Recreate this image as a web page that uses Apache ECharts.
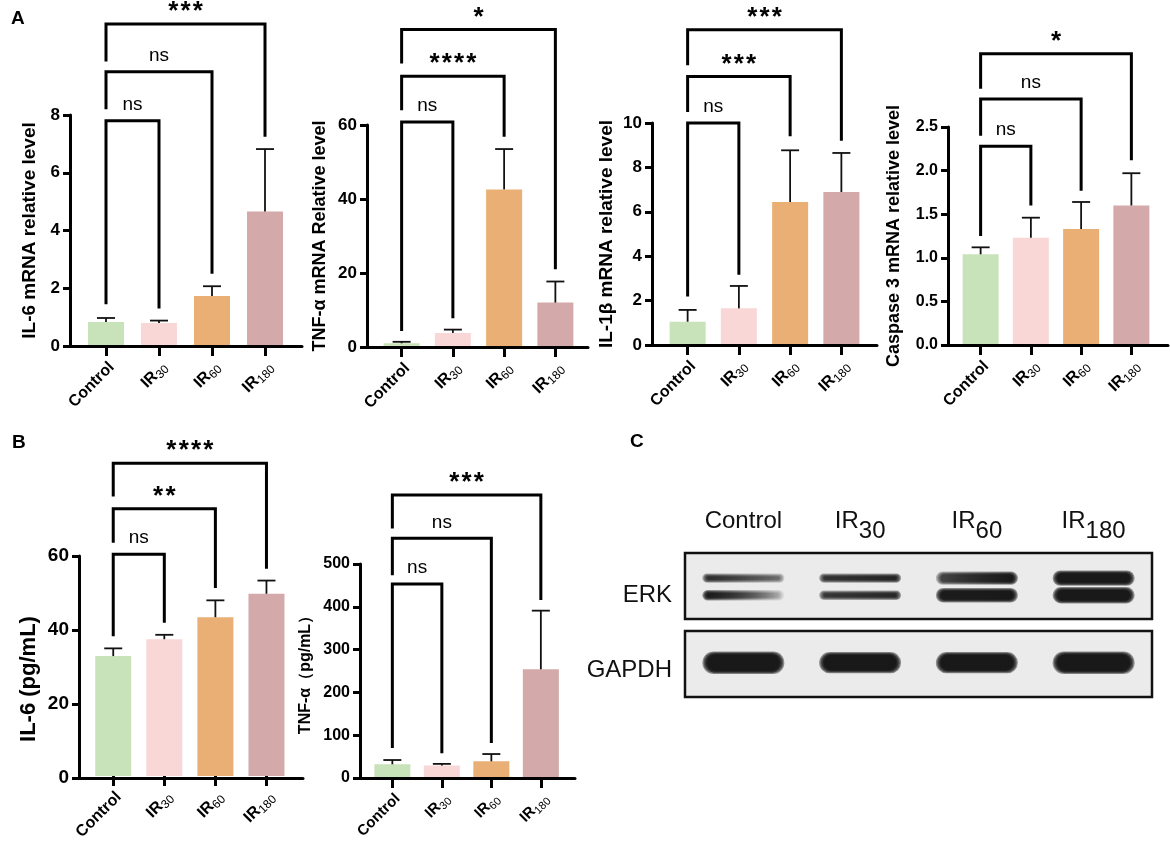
<!DOCTYPE html>
<html>
<head>
<meta charset="utf-8">
<script src="https://cdn.jsdelivr.net/npm/echarts@6/dist/echarts.min.js"></script>
<style>
  html, body { margin: 0; padding: 0; background: #fff; }
  #main { width: 1170px; height: 844px; }
</style>
</head>
<body>
<div id="main"></div>
<script>
var categories = ['Control', 'IR30', 'IR60', 'IR180'];

// A - mRNA relative level, mean and upper SD
var il6MrnaMean = [0.83, 0.80, 1.73, 4.66];
var il6MrnaErr = [0.14, 0.08, 0.34, 2.16];
var tnfMrnaMean = [1.0, 3.8, 42.6, 12.0];
var tnfMrnaErr = [0.4, 0.9, 10.9, 5.7];
var il1bMrnaMean = [1.05, 1.65, 6.44, 6.89];
var il1bMrnaErr = [0.53, 1.01, 2.33, 1.76];
var casp3MrnaMean = [1.04, 1.23, 1.33, 1.60];
var casp3MrnaErr = [0.08, 0.23, 0.31, 0.37];

// B - ELISA (pg/mL)
var il6ElisaMean = [32.7, 37.3, 43.3, 49.7];
var il6ElisaErr = [2.1, 1.2, 4.6, 3.6];
var tnfElisaMean = [32, 29, 39, 254];
var tnfElisaErr = [10, 4, 17, 137];

// significance brackets: [from, to, bracket level, left leg end, right leg end]
var il6MrnaSig = [[0, 1, 7.8, 1.45, 1.3], [0, 2, 9.5, 8.2, 2.5], [0, 3, 11.15, 9.85, 7.25]];
var il6MrnaSigText = ['ns', 'ns', '***'];
var tnfMrnaSig = [[0, 1, 60.8, 4.3, 7.8], [0, 2, 73.2, 64, 56.8], [0, 3, 85.8, 76.6, 21]];
var tnfMrnaSigText = ['ns', '****', '*'];
var il1bMrnaSig = [[0, 1, 10.0, 2.18, 3.16], [0, 2, 12.1, 10.5, 9.4], [0, 3, 14.2, 12.6, 9.2]];
var il1bMrnaSigText = ['ns', '***', '***'];
var casp3MrnaSig = [[0, 1, 2.28, 1.25, 1.6], [0, 2, 2.82, 2.4, 1.77], [0, 3, 3.34, 2.94, 2.12]];
var casp3MrnaSigText = ['ns', 'ns', '*'];
var il6ElisaSig = [[0, 1, 60.5, 38.1, 41.8], [0, 2, 72.9, 63.6, 51.3], [0, 3, 85.3, 76.2, 56.5]];
var il6ElisaSigText = ['ns', '**', '****'];
var tnfElisaSig = [[0, 1, 453, 70, 58], [0, 2, 560, 474, 82], [0, 3, 661, 583, 416]];
var tnfElisaSigText = ['ns', 'ns', '***'];

// C - western blot band density (left edge / right edge) and thickness
var erkUpperLeft = [0.75, 0.7, 0.55, 1.0];
var erkUpperRight = [0.35, 0.85, 1.0, 1.0];
var erkUpperSize = [0.05, 0.05, 0.11, 0.14];
var erkLowerLeft = [1.0, 0.65, 0.95, 1.0];
var erkLowerRight = [0.12, 0.8, 1.0, 1.0];
var erkLowerSize = [0.07, 0.05, 0.13, 0.16];
var gapdhLeft = [1.0, 1.0, 1.0, 1.0];
var gapdhRight = [1.0, 1.0, 1.0, 1.0];
var gapdhSize = [0.25, 0.23, 0.23, 0.25];

var FONT = 'Liberation Sans, Arial, sans-serif';
var barColors = ['#c8e2ba', '#f9d7d6', '#e9af74', '#d3a9a9'];

var panels = [
    { mean: il6MrnaMean, err: il6MrnaErr, sig: il6MrnaSig, sigText: il6MrnaSigText, max: 8, interval: 2,
      name: 'IL-6 mRNA relative level', nameSize: 19, nameGap: 31, tickSize: 17, xSize: 16,
      box: { yx: 70, xe: 302, top: 115, y0: 346, il: 79.5, ir: 291.5 } },
    { mean: tnfMrnaMean, err: tnfMrnaErr, sig: tnfMrnaSig, sigText: tnfMrnaSigText, max: 60, interval: 20,
      name: 'TNF-α mRNA Relative level', nameSize: 18, nameGap: 38, tickSize: 17, xSize: 16,
      box: { yx: 367, xe: 588, top: 125, y0: 347, il: 376, ir: 581 } },
    { mean: il1bMrnaMean, err: il1bMrnaErr, sig: il1bMrnaSig, sigText: il1bMrnaSigText, max: 10, interval: 2,
      name: 'IL-1β mRNA relative level', nameSize: 19, nameGap: 36, tickSize: 17, xSize: 16,
      box: { yx: 652, xe: 877, top: 123, y0: 345, il: 662, ir: 867 } },
    { mean: casp3MrnaMean, err: casp3MrnaErr, sig: casp3MrnaSig, sigText: casp3MrnaSigText, max: 2.5, interval: 0.5,
      name: 'Caspase 3 mRNA relative level', nameSize: 18, nameGap: 45, tickSize: 16, xSize: 16, decimals: 1,
      box: { yx: 948, xe: 1168, top: 127, y0: 345, il: 955.5, ir: 1156.5 } },
    { mean: il6ElisaMean, err: il6ElisaErr, sig: il6ElisaSig, sigText: il6ElisaSigText, max: 60, interval: 20,
      name: 'IL-6 (pg/mL)', nameSize: 22, nameGap: 39, tickSize: 19, xSize: 16, namePad: [0, 24, 0, 0],
      box: { yx: 79, xe: 303, top: 556, y0: 778, il: 87.7, ir: 292 } },
    { mean: tnfElisaMean, err: tnfElisaErr, sig: tnfElisaSig, sigText: tnfElisaSigText, max: 500, interval: 100,
      name: 'TNF-α（pg/mL）', nameSize: 16, nameGap: 46, tickSize: 16, xSize: 15,
      box: { yx: 360, xe: 575, top: 564, y0: 778, il: 367.6, ir: 565.6 } }
];

function subLabel(v) {
    var m = /^IR(\d+)$/.exec(v);
    return m ? '{b|IR}{s|' + m[1] + '}' : '{b|' + v + '}{s|\u200b}';
}

function renderErr(params, api) {
    var x = api.value(0), m = api.value(1), e = api.value(2);
    var p0 = api.coord([x, m]);
    var p1 = api.coord([x, m + e]);
    var st = { stroke: '#111', lineWidth: 1.8 };
    return {
        type: 'group',
        children: [
            { type: 'line', shape: { x1: p0[0], y1: p0[1], x2: p1[0], y2: p1[1] }, style: st },
            { type: 'line', shape: { x1: p1[0] - 9, y1: p1[1], x2: p1[0] + 9, y2: p1[1] }, style: st }
        ]
    };
}

function makeSigRender(texts) {
    return function (params, api) {
        var a = api.value(0), b = api.value(1), h = api.value(2);
        var qL = api.coord([a, api.value(3)]);
        var pL = api.coord([a, h]);
        var pR = api.coord([b, h]);
        var qR = api.coord([b, api.value(4)]);
        var t = texts[params.dataIndex];
        var star = t.charAt(0) === '*';
        return {
            type: 'group',
            children: [
                { type: 'polyline', shape: { points: [qL, pL, pR, qR] },
                  style: { stroke: '#000', lineWidth: 3, fill: null, lineJoin: 'miter' } },
                { type: 'text', x: (pL[0] + pR[0]) / 2, y: pL[1] - (star ? 12 : 16),
                  style: {
                      text: star ? t.split('').join('\u200a') : t,
                      fontFamily: FONT, fontSize: star ? 26 : 19, fontWeight: star ? 'bold' : 'normal',
                      fill: '#000', align: 'center', verticalAlign: 'middle'
                  } }
            ]
        };
    };
}

// soft band: stacked translucent capsules, growing outwards
function renderBand(params, api) {
    var c = api.coord([api.value(0), api.value(1)]);
    var w = api.size([1, 0])[0] * 0.62;
    var h = api.size([0, api.value(4)])[1];
    var l = api.value(2), r = api.value(3);
    var layers = [];
    for (var k = 4; k >= 0; k--) {
        var ww = w + k * 2.4, hh = h + k * 1.5;
        var a = 0.42;
        layers.push({
            type: 'rect',
            shape: { x: c[0] - ww / 2, y: c[1] - hh / 2, width: ww, height: hh, r: hh / 2 },
            style: {
                fill: { type: 'linear', x: 0, y: 0, x2: 1, y2: 0, colorStops: [
                    { offset: 0, color: 'rgba(10,10,10,' + (a * l) + ')' },
                    { offset: 0.5, color: 'rgba(10,10,10,' + (a * (l + r) / 2) + ')' },
                    { offset: 1, color: 'rgba(10,10,10,' + (a * r) + ')' }
                ] }
            }
        });
    }
    return { type: 'group', children: layers };
}

var option = {
    animation: false,
    backgroundColor: '#fff',
    textStyle: { fontFamily: FONT },
    title: [
        { text: 'A', left: 6, top: 4, textStyle: { fontSize: 19, fontWeight: 'bold', color: '#000' } },
        { text: 'B', left: 7, top: 428, textStyle: { fontSize: 19, fontWeight: 'bold', color: '#000' } },
        { text: 'C', left: 625, top: 427, textStyle: { fontSize: 19, fontWeight: 'bold', color: '#000' } }
    ],
    grid: [],
    xAxis: [],
    yAxis: [],
    series: []
};

panels.forEach(function (p, k) {
    var L = p.box;
    var gOut = 2 * k, gIn = 2 * k + 1;
    option.grid.push({ left: L.yx, right: 1170 - L.xe, top: L.top, bottom: 844 - L.y0 });
    option.grid.push({ left: L.il, right: 1170 - L.ir, top: L.top, bottom: 844 - L.y0 });

    option.xAxis.push({
        gridIndex: gOut, type: 'value', min: 0, max: 1, z: 10,
        axisLine: { show: true, onZero: false, lineStyle: { color: '#000', width: 3 } },
        axisTick: { show: false }, axisLabel: { show: false }, splitLine: { show: false }
    });
    option.xAxis.push({
        gridIndex: gIn, type: 'category', data: categories,
        axisLine: { show: false },
        axisTick: { show: true, alignWithLabel: true, length: 10, lineStyle: { color: '#000', width: 3 } },
        axisLabel: {
            rotate: 45, margin: 13, interval: 0, verticalAlign: 'top', formatter: subLabel,
            rich: {
                b: { fontFamily: FONT, fontSize: p.xSize, fontWeight: 'bold', color: '#000', lineHeight: 18, verticalAlign: 'top' },
                s: { fontFamily: FONT, fontSize: p.xSize - 4, fontWeight: 'normal', color: '#000', lineHeight: 24 }
            }
        }
    });
    option.yAxis.push({
        gridIndex: gOut, type: 'value', min: 0, max: p.max, interval: p.interval, z: 10,
        name: p.name, nameLocation: 'middle', nameGap: p.nameGap,
        nameTextStyle: { fontSize: p.nameSize, fontWeight: 'bold', color: '#000', fontFamily: FONT, padding: p.namePad || 0 },
        axisLine: { show: true, lineStyle: { color: '#000', width: 3 } },
        axisTick: { show: true, length: 7, lineStyle: { color: '#000', width: 3 } },
        axisLabel: {
            fontSize: p.tickSize, fontWeight: 'bold', color: '#000', margin: 10,
            formatter: function (v) { return p.decimals ? v.toFixed(p.decimals) : String(v); }
        },
        splitLine: { show: false }
    });
    option.yAxis.push({ gridIndex: gIn, type: 'value', min: 0, max: p.max, show: false });

    option.series.push({
        type: 'bar', xAxisIndex: gIn, yAxisIndex: gIn, barWidth: 36, z: 2,
        data: p.mean.map(function (v, i) { return { value: v, itemStyle: { color: barColors[i] } }; })
    });
    option.series.push({
        type: 'custom', xAxisIndex: gIn, yAxisIndex: gIn, z: 3, renderItem: renderErr,
        data: p.mean.map(function (v, i) { return [i, v, p.err[i]]; })
    });
    option.series.push({
        type: 'custom', xAxisIndex: gIn, yAxisIndex: gIn, z: 4, clip: false,
        renderItem: makeSigRender(p.sigText), data: p.sig
    });
});

// C - western blot membranes
var blotRich = {
    b: { fontFamily: FONT, fontSize: 24, color: '#111', lineHeight: 28, verticalAlign: 'top' },
    s: { fontFamily: FONT, fontSize: 24, color: '#111', lineHeight: 44 }
};
[['ERK', 553, 619, 18], ['GAPDH', 631, 697, 12]].forEach(function (m, j) {
    var g = option.grid.length;
    option.grid.push({
        left: 685, right: 18, top: m[1], bottom: 844 - m[2], show: true,
        borderColor: '#111', borderWidth: 2.5, backgroundColor: '#ebebeb'
    });
    option.xAxis.push({
        gridIndex: g, type: 'category', data: categories, position: 'top',
        axisLine: { show: false }, axisTick: { show: false }, splitLine: { show: false },
        axisLabel: j === 0 ? { margin: 0, interval: 0, formatter: subLabel, rich: blotRich } : { show: false }
    });
    option.yAxis.push({
        gridIndex: g, type: 'value', min: 0, max: 1,
        name: m[0], nameLocation: 'middle', nameRotate: 0, nameGap: 13,
        nameTextStyle: { fontSize: 24, color: '#111', fontFamily: FONT, verticalAlign: 'top', lineHeight: m[3] },
        axisLine: { show: false }, axisTick: { show: false }, axisLabel: { show: false }, splitLine: { show: false }
    });
});

var erkUpperRow = 0.62, erkLowerRow = 0.36, gapdhRow = 0.52;
var erkBands = [], gapdhBands = [];
categories.forEach(function (c, i) {
    erkBands.push([i, erkUpperRow, erkUpperLeft[i], erkUpperRight[i], erkUpperSize[i]]);
    erkBands.push([i, erkLowerRow, erkLowerLeft[i], erkLowerRight[i], erkLowerSize[i]]);
    gapdhBands.push([i, gapdhRow, gapdhLeft[i], gapdhRight[i], gapdhSize[i]]);
});
option.series.push({ type: 'custom', xAxisIndex: 12, yAxisIndex: 12, renderItem: renderBand, data: erkBands });
option.series.push({ type: 'custom', xAxisIndex: 13, yAxisIndex: 13, renderItem: renderBand, data: gapdhBands });

var chart = echarts.init(document.getElementById('main'));
chart.setOption(option);
</script>
</body>
</html>
